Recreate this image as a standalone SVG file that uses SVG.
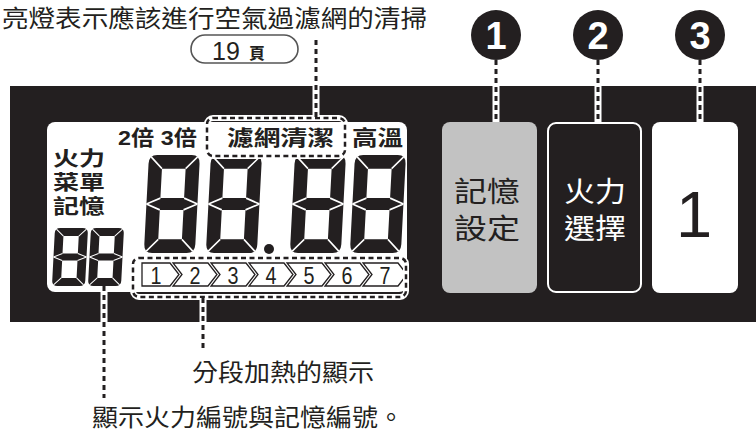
<svg xmlns="http://www.w3.org/2000/svg" width="756" height="436" viewBox="0 0 756 436">
<defs>
<style>
.cjk{font-family:"Noto Sans CJK TC","Liberation Sans",sans-serif;fill:#231f20}
.lat{font-family:"Liberation Sans","Noto Sans CJK TC",sans-serif;fill:#231f20}
.nar{font-family:"Liberation Sans",sans-serif;fill:#231f20;font-size:24px}
.b{font-weight:700}
.w{fill:#fff}
.case{stroke:#fff;stroke-width:7;fill:none}
.dash{stroke:#231f20;stroke-width:3;stroke-dasharray:5 4;fill:none}
.boxcase{stroke:#fff;stroke-width:6;fill:none}
.boxdash{stroke:#231f20;stroke-width:2.5;stroke-dasharray:5 3.5;fill:none}
.chev{fill:#fff;stroke:#231f20;stroke-width:1.3}
.sep{stroke:#fff;stroke-width:1.7;fill:none}
.circ{fill:#231f20}
.cnum{font-family:"Liberation Sans",sans-serif;font-weight:700;font-size:38px;fill:#fff;text-anchor:middle}
</style>
<g id="digit">
<path fill="#231f20" fill-rule="evenodd" d="M9,0 H47 Q56,0 56,9 V91 Q56,100 47,100 H9 Q0,100 0,91 V9 Q0,0 9,0 Z M15,14 H41 V44 H15 Z M15,56 H41 V86 H15 Z"/>
<path class="sep" d="M15,14 L2.5,2 M41,14 L53.5,2 M15,86 L2.5,98 M41,86 L53.5,98 M0,50 L15,44 M0,50 L15,56 M56,50 L41,44 M56,50 L41,56"/>
</g>
</defs>

<rect width="756" height="436" fill="#fff"/>

<g id="top-caption">
<text class="cjk" x="2" y="27" font-size="24" textLength="425" lengthAdjust="spacingAndGlyphs">亮燈表示應該進行空氣過濾網的清掃</text>
</g>

<g id="page-ref">
<rect x="191" y="35" width="107" height="28" rx="14" fill="none" stroke="#555" stroke-width="1.6"/>
<text class="lat" x="212" y="60" font-size="25">19</text>
<text class="cjk b" x="249" y="59" font-size="16">頁</text>
</g>

<g id="panel">
<rect x="10" y="86" width="746" height="236" fill="#231f20"/>
</g>

<g id="lcd">
<rect x="47" y="122" width="360" height="170" rx="8" fill="#fff"/>
<text class="cjk b" x="53" y="166" font-size="20" textLength="52" lengthAdjust="spacingAndGlyphs">火力</text>
<text class="cjk b" x="53" y="190" font-size="20" textLength="52" lengthAdjust="spacingAndGlyphs">菜單</text>
<text class="cjk b" x="53" y="214" font-size="20" textLength="52" lengthAdjust="spacingAndGlyphs">記憶</text>
<text class="lat b" x="118" y="145" font-size="21" textLength="79" lengthAdjust="spacingAndGlyphs">2倍 3倍</text>
<text class="cjk b" x="227" y="145" font-size="21" textLength="107" lengthAdjust="spacingAndGlyphs">濾網清潔</text>
<text class="cjk b" x="352" y="145" font-size="21" textLength="51" lengthAdjust="spacingAndGlyphs">高溫</text>
<use href="#digit" transform="translate(149,155) skewX(-3) scale(0.911,0.98)"/>
<use href="#digit" transform="translate(211,155) skewX(-3) scale(0.911,0.98)"/>
<use href="#digit" transform="translate(295,155) skewX(-3) scale(0.911,0.98)"/>
<use href="#digit" transform="translate(355,155) skewX(-3) scale(0.911,0.98)"/>
<circle cx="269" cy="249" r="5" fill="#231f20"/>
<use href="#digit" transform="translate(55,228) skewX(-3) scale(0.59,0.58)"/>
<use href="#digit" transform="translate(91,228) skewX(-3) scale(0.59,0.58)"/>
</g>

<g id="steps">
<path class="chev" d="M142,263 H170 L179,274.5 L170,286 H142 Z"/>
<path class="chev" d="M173,263 H208 L217,274.5 L208,286 H173 L182,274.5 Z"/>
<path class="chev" d="M211,263 H246 L255,274.5 L246,286 H211 L220,274.5 Z"/>
<path class="chev" d="M249,263 H284 L293,274.5 L284,286 H249 L258,274.5 Z"/>
<path class="chev" d="M287,263 H322 L331,274.5 L322,286 H287 L296,274.5 Z"/>
<path class="chev" d="M325,263 H360 L369,274.5 L360,286 H325 L334,274.5 Z"/>
<path class="chev" d="M363,263 H398 L407,274.5 L398,286 H363 L372,274.5 Z"/>
<text class="nar" x="150.5" y="284" textLength="11" lengthAdjust="spacingAndGlyphs">1</text>
<text class="nar" x="189.5" y="284" textLength="11" lengthAdjust="spacingAndGlyphs">2</text>
<text class="nar" x="227.5" y="284" textLength="11" lengthAdjust="spacingAndGlyphs">3</text>
<text class="nar" x="265.5" y="284" textLength="11" lengthAdjust="spacingAndGlyphs">4</text>
<text class="nar" x="303.5" y="284" textLength="11" lengthAdjust="spacingAndGlyphs">5</text>
<text class="nar" x="341.5" y="284" textLength="11" lengthAdjust="spacingAndGlyphs">6</text>
<text class="nar" x="379.5" y="284" textLength="11" lengthAdjust="spacingAndGlyphs">7</text>
</g>

<g id="btn-memory">
<rect x="442" y="122" width="95" height="171" rx="8" fill="#c2c2c2"/>
<text class="cjk" x="454" y="202" font-size="28" textLength="66" lengthAdjust="spacingAndGlyphs">記憶</text>
<text class="cjk" x="454" y="239" font-size="28" textLength="66" lengthAdjust="spacingAndGlyphs">設定</text>
</g>

<g id="btn-power">
<rect x="548" y="123" width="93" height="169" rx="8" fill="#231f20" stroke="#fff" stroke-width="2"/>
<text class="cjk w" x="564" y="202" font-size="28" textLength="62" lengthAdjust="spacingAndGlyphs">火力</text>
<text class="cjk w" x="564" y="239" font-size="28" textLength="62" lengthAdjust="spacingAndGlyphs">選擇</text>
</g>

<g id="btn-number">
<rect x="652" y="122" width="86" height="171" rx="8" fill="#fff"/>
<text class="lat" x="694" y="237" font-size="65" text-anchor="middle">1</text>
</g>

<g id="callout-1">
<circle class="circ" cx="496" cy="35" r="25"/>
<text class="cnum" x="496" y="49">1</text>
</g>
<g id="callout-2">
<circle class="circ" cx="598" cy="35" r="25"/>
<text class="cnum" x="598" y="49">2</text>
</g>
<g id="callout-3">
<circle class="circ" cx="700" cy="35" r="25"/>
<text class="cnum" x="700" y="49">3</text>
</g>

<g id="connectors">
<rect class="boxcase" x="207" y="118" width="138" height="38" rx="6"/>
<rect class="boxdash" x="207" y="118" width="138" height="38" rx="6"/>
<rect class="boxcase" x="133" y="258" width="273" height="39" rx="6"/>
<rect class="boxdash" x="133" y="258" width="273" height="39" rx="6"/>
<path class="case" d="M316,86 V117 M496,86 V122 M598,86 V122 M700,86 V122 M104,292 V322 M203,298 V322"/>
<path class="dash" d="M316,40 V117 M496,60 V122 M598,60 V122 M700,60 V122 M104,286 V398 M203,298 V352"/>
</g>

<g id="bottom-captions">
<text class="cjk" x="192" y="381" font-size="24" textLength="182" lengthAdjust="spacingAndGlyphs">分段加熱的顯示</text>
<text class="cjk" x="92" y="426" font-size="24" textLength="312" lengthAdjust="spacingAndGlyphs">顯示火力編號與記憶編號。</text>
</g>
</svg>
